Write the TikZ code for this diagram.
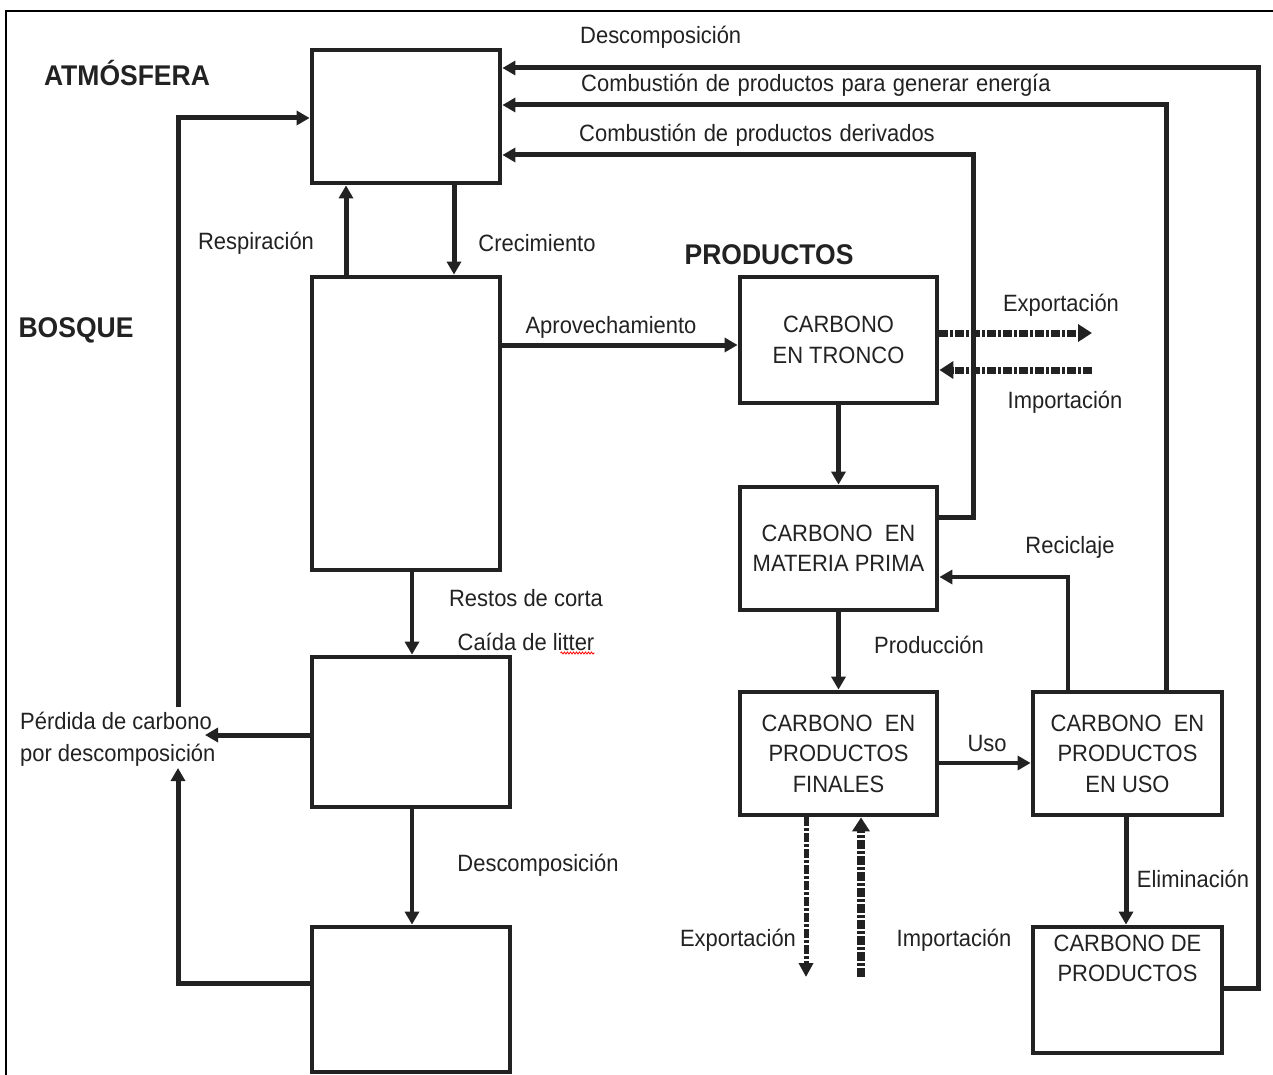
\documentclass[tikz,border=0pt]{standalone}
\usepackage{fontspec}
\setmainfont[FakeStretch=0.93]{Liberation Sans}
\usetikzlibrary{arrows.meta,decorations.pathmorphing}
\definecolor{ink}{RGB}{34,34,34}
\begin{document}
\begin{tikzpicture}[x=1pt,y=-1pt,
  box/.style={draw=ink, line width=4.8pt, rectangle, inner sep=0pt, align=center,
    font=\fontsize{23.6}{30.5}\selectfont, text=ink},
  lbl/.style={inner sep=0pt, font=\fontsize{23.6}{32}\selectfont, text=ink},
  head/.style={inner sep=0pt, font=\bfseries\fontsize{28.5}{30}\selectfont, text=ink},
  flow/.style={draw=ink, line width=5pt, -{Triangle[length=13pt,width=14pt]}},
  thinflow/.style={flow, line width=3.5pt},
  trade/.style={draw=ink, line width=7pt, dash pattern=on 9pt off 2pt on 3pt off 2pt,
    -{Triangle[length=14pt,width=17pt]}}]
\useasboundingbox (0,0) rectangle (1273,1075);
\fill[white] (0,0) rectangle (1273,1075);
\draw[line width=1.8pt, black] (6,1075) -- (6,11) -- (1273,11);

% boxes
\node[box, minimum width=188pt, minimum height=133pt] (atm) at (406,116.5) {};
\node[box, minimum width=188pt, minimum height=293pt] (bos) at (406,423.5) {};
\node[box, minimum width=198pt, minimum height=150pt] (lit) at (411,732) {};
\node[box, minimum width=198pt, minimum height=145pt] (soil) at (411,999.5) {};
\node[box, minimum width=197pt, minimum height=126pt] (tron) at (838.5,340) {CARBONO\\EN TRONCO};
\node[box, minimum width=197pt, minimum height=123pt] (mp) at (838.5,548.5) {CARBONO\ \ EN\\MATERIA PRIMA};
\node[box, minimum width=197pt, minimum height=123pt] (pf) at (838.5,753.5) {CARBONO\ \ EN\\PRODUCTOS\\FINALES};
\node[box, minimum width=189pt, minimum height=123pt] (pu) at (1127.5,753.5) {CARBONO\ \ EN\\PRODUCTOS\\EN USO};
\node[box, minimum width=189pt, minimum height=126pt] (cp) at (1127.5,990) {};
\node[inner sep=0pt, align=center, font=\fontsize{23.6}{30.5}\selectfont, text=ink] (cpt) at (1127.5,958.5) {CARBONO DE\\PRODUCTOS};

% headings
\node[head] (hatm) at (127,73) {ATMÓSFERA};
\node[head] (hbos) at (76,330) {BOSQUE};
\node[head] (hprod) at (769,255) {PRODUCTOS};

% labels
\node[lbl, anchor=west] (ldes) at (580,37) {Descomposición};
\node[lbl, anchor=west] (lene) at (581,85) {Combustión\hspace{1.4pt} de\hspace{1.4pt} productos\hspace{1.4pt} para\hspace{1.4pt} generar\hspace{1.4pt} energía};
\node[lbl, anchor=west] (lder) at (579,135) {Combustión\hspace{1.4pt} de\hspace{1.4pt} productos\hspace{1.4pt} derivados};
\node[lbl] (lres) at (256,243) {Respiración};
\node[lbl] (lcre) at (537,243) {Crecimiento};
\node[lbl] (lapr) at (611,327) {Aprovechamiento};
\node[lbl] (lex1) at (1061,305) {Exportación};
\node[lbl] (lim1) at (1065,402) {Importación};
\node[lbl] (lrec) at (1070,547) {Reciclaje};
\node[lbl] (lpro) at (929,645) {Producción};
\node[lbl] (luso) at (987,743) {Uso};
\node[lbl] (leli) at (1193,879) {Eliminación};
\node[lbl] (lex2) at (738,940) {Exportación};
\node[lbl] (lim2) at (954,940) {Importación};
\node[lbl] (lrco) at (526,598) {Restos de corta};
\node[lbl] (lcai) at (526,642) {Caída de litter};
\node[lbl] (ldsc) at (538,865) {Descomposición};
\node[lbl, anchor=west, align=left] (lper) at (20,739) {Pérdida de carbono\\por descomposición};
\draw[red, line width=0.8pt, decorate, decoration={snake, amplitude=1pt, segment length=3pt}]
  (lcai.south east) ++(-34,2) -- ++(34,0);

% forest side connectors
\draw[flow] ([xshift=-60pt]bos.north) -- ([xshift=-60pt]atm.south);
\draw[flow] ([xshift=48pt]atm.south) -- ([xshift=48pt]bos.north);
\coordinate (aprA) at ([yshift=78.5pt]bos.east);
\draw[flow] (aprA) -- (aprA -| tron.west);
\coordinate (rcA) at ([xshift=6pt]bos.south);
\draw[thinflow] (rcA) -- (rcA |- lit.north);
\coordinate (dcA) at ([xshift=1pt]lit.south);
\draw[thinflow] (dcA) -- (dcA |- soil.north);
\coordinate (pdT) at (205,735);
\draw[flow] (pdT -| lit.west) -- (pdT);
\coordinate (pdUp) at (178,707);
\coordinate (lfB) at ([yshift=-1.5pt]atm.west);
\draw[flow] (pdUp) |- (lfB);
\coordinate (pdDn) at (178,768);
\coordinate (slA) at ([yshift=16.5pt]soil.west);
\draw[flow] (slA) -| (pdDn);

% product side connectors
\draw[flow] (tron.south) -- (mp.north);
\draw[flow] (mp.south) -- (pf.north);
\coordinate (usoA) at ([yshift=-9.5pt]pf.east);
\draw[flow, line width=4pt] (usoA) -- (usoA -| pu.west);
\draw[flow] ([xshift=-1.5pt]pu.south) -- ([xshift=-1.5pt]cp.north);
\coordinate (recA) at ([xshift=-59.5pt]pu.north);
\coordinate (recB) at ([yshift=-28.5pt]mp.east);
\draw[flow, line width=4pt] (recA) |- (recB);
\coordinate (derA) at ([yshift=31.5pt]mp.east);
\coordinate (derB) at ([yshift=-38.5pt]atm.east);
\draw[flow] (derA) -- ++(34,0) |- (derB);
\coordinate (enA) at ([xshift=38.5pt]pu.north);
\coordinate (enB) at ([yshift=11.5pt]atm.east);
\draw[flow] (enA) |- (enB);
\coordinate (dsA) at ([yshift=2pt]cp.east);
\coordinate (dsB) at ([yshift=48.5pt]atm.east);
\draw[flow] (dsA) -- ++(34,0) |- (dsB);

% trade (dashed)
\coordinate (exT) at (1092,333);
\coordinate (imT) at (1092,370);
\draw[trade] (exT -| tron.east) -- (exT);
\draw[trade] (imT) -- (imT -| tron.east);
\coordinate (exP) at (806,977);
\coordinate (imP) at (861,977);
\draw[trade, line width=5pt, -{Triangle[length=14pt,width=14pt]}] (exP |- pf.south) -- (exP);
\draw[trade, line width=8pt] (imP) -- (imP |- pf.south);
\end{tikzpicture}
\end{document}
